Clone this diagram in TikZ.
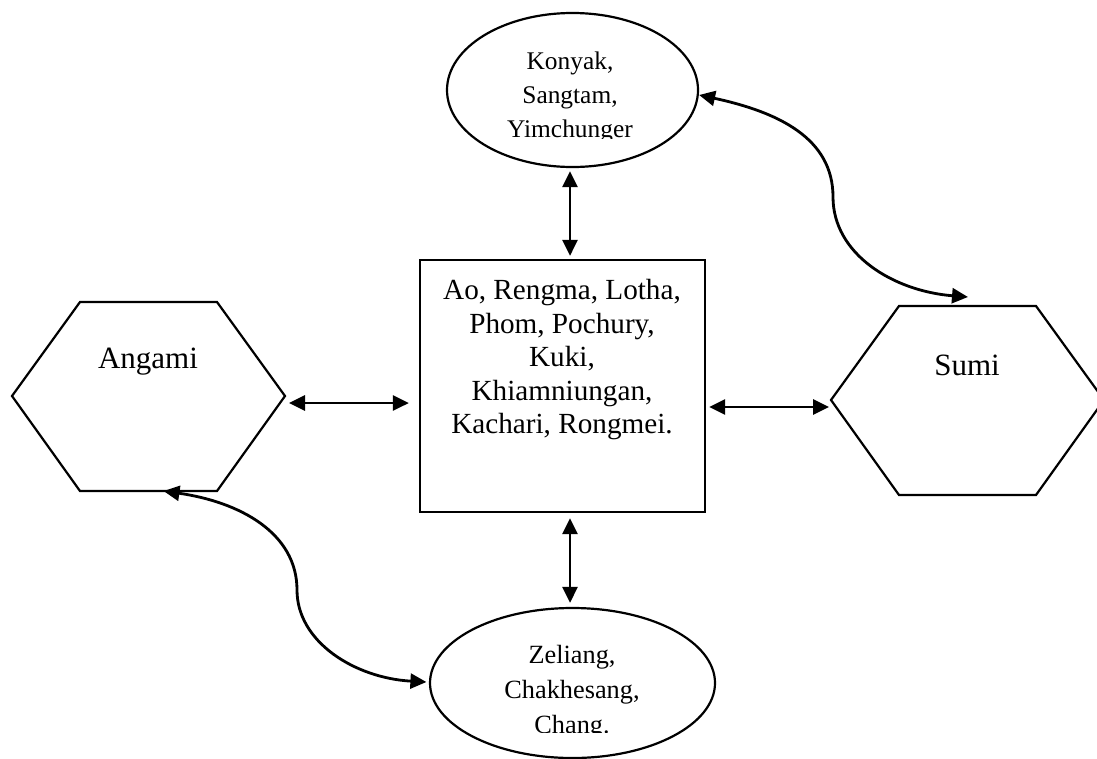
\documentclass[tikz,border=0pt]{standalone}
\usepackage{fontspec}
\setmainfont{Liberation Serif}
\usetikzlibrary{arrows.meta,shapes.geometric,calc}
\begin{document}
\begin{tikzpicture}[x=1pt,y=1pt,
  shapeline/.style={draw=black,line width=2.2pt},
  conn/.style={line width=2.8pt,{Triangle[length=16pt,width=15pt]}-{Triangle[length=16pt,width=15pt]}},
  bigtext/.style={inner sep=0pt,font=\fontsize{31}{36}\selectfont},
  boxtext/.style={inner sep=0pt,align=center,font=\fontsize{29.2}{33.5}\selectfont},
  ovaltext/.style={inner sep=0pt,align=center}
]
\useasboundingbox (0,0) rectangle (1097,-758);
\fill[white] (0,0) rectangle (1097,-758);

% central box
\node[shapeline,rectangle,minimum width=285pt,minimum height=252pt,inner sep=0pt] (box) at (562.5,-386) {};
\node[boxtext] (boxtxt) at (562,-360) {Ao, Rengma, Lotha,\\Phom, Pochury,\\Kuki,\\Khiamniungan,\\Kachari, Rongmei.};

% top ellipse
\node[shapeline,ellipse,minimum width=251pt,minimum height=154pt,inner sep=0pt] (konyak) at (572.5,-90) {};
\begin{scope}
  \clip (440,-5) rectangle (705,-138);
  \node[ovaltext,font=\fontsize{25.4}{34}\selectfont] (konyaktxt) at (570,-97) {Konyak,\\Sangtam,\\Yimchunger};
\end{scope}

% bottom ellipse
\node[shapeline,ellipse,minimum width=285pt,minimum height=150pt,inner sep=0pt] (zeliang) at (572.5,-683) {};
\begin{scope}
  \clip (420,-600) rectangle (725,-732);
  \node[ovaltext,font=\fontsize{26.3}{35}\selectfont] (zeliangtxt) at (572,-692) {Zeliang,\\Chakhesang,\\Chang.};
\end{scope}

% Angami hexagon
\coordinate (aTL) at (80,-302);
\coordinate (aTR) at (217,-302);
\coordinate (aR) at (285,-396);
\coordinate (aBR) at (217,-491);
\coordinate (aBL) at (80,-491);
\coordinate (aL) at (12,-396);
\draw[shapeline,line join=miter] (aTL) -- (aTR) -- (aR) -- (aBR) -- (aBL) -- (aL) -- cycle;
\node[bigtext] (angami) at (148,-362) {Angami};

% Sumi hexagon
\coordinate (sTL) at (899,-306);
\coordinate (sTR) at (1036,-306);
\coordinate (sR) at (1104,-400);
\coordinate (sBR) at (1036,-495);
\coordinate (sBL) at (899,-495);
\coordinate (sL) at (831,-400);
\draw[shapeline,line join=miter] (sTL) -- (sTR) -- (sR) -- (sBR) -- (sBL) -- (sL) -- cycle;
\node[bigtext] (sumi) at (967,-365) {Sumi};

% straight connectors
\draw[conn] ([shift={(4,-7)}]aR) -- ([shift={(-10,-17)}]box.west);
\draw[conn] ([shift={(3,-21)}]box.east) -- ([shift={(-2,-7)}]sL);
\draw[conn] ([shift={(-2.5,-3)}]konyak.south) -- ([shift={(7.5,3)}]box.north);
\draw[conn] ([shift={(7.5,-5)}]box.south) -- ([shift={(-2.5,4)}]zeliang.north);

% curved connectors
\coordinate (sT) at ($(sTL)!0.5!(sTR)$);
\coordinate (aB) at ($(aBL)!0.5!(aBR)$);
\coordinate (m1) at (833,-197);
\draw[conn] ([shift={(0,-5)}]konyak.east) .. controls (778,-112) and (833,-138) .. (m1)
  .. controls (833,-254) and (893,-291) .. ([shift={(0.5,9)}]sT);
\coordinate (m2) at (297,-590);
\draw[conn] ([shift={(15,0)}]aB) .. controls (240,-502) and (297,-533) .. (m2)
  .. controls (297,-642) and (355,-678) .. ([shift={(-2.5,1)}]zeliang.west);
\end{tikzpicture}
\end{document}
